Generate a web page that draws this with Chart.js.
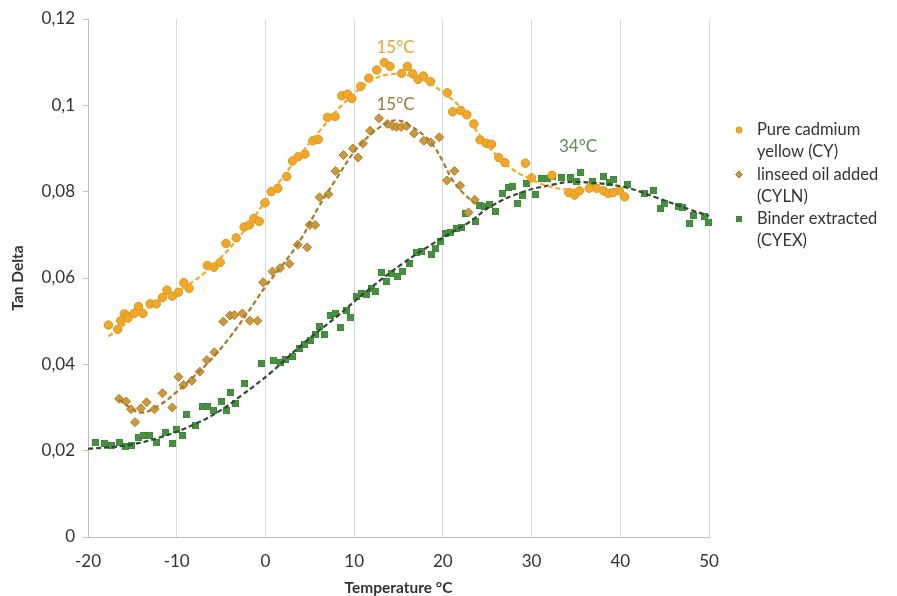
<!DOCTYPE html>
<html>
<head>
<meta charset="utf-8">
<script src="https://cdn.jsdelivr.net/npm/chart.js@4.4.1/dist/chart.umd.min.js"></script>
<style>
  html, body { margin: 0; padding: 0; background: #ffffff; }
  #wrap { width: 897px; height: 596px; position: relative; }
</style>
</head>
<body>
<div id="wrap"><canvas id="chart" width="897" height="596"></canvas></div>
<script>
// ---- Measured tan delta vs temperature ----
const cyTemp = [-17.7,-16.65,-16.3,-15.9,-15.6,-15.5,-14.8,-14.3,-13.8,-13.0,-12.3,-11.6,-11.1,-10.5,-9.8,-9.2,-8.6,-6.55,-5.8,-5.1,-4.45,-3.3,-2.4,-1.8,-1.3,-0.7,-0.05,0.65,1.4,2.4,3.05,3.7,4.45,5.35,5.95,7.0,7.85,8.6,9.25,9.75,10.75,11.65,12.55,13.4,14.05,15.35,16.0,16.6,17.2,17.8,18.6,20.5,21.1,22.0,22.7,23.5,24.2,24.9,25.5,26.3,27.0,29.3,30.0,32.3,34.2,34.85,35.4,36.5,37.3,38.1,38.65,39.2,39.9,40.5];
const cyTan = [0.0491,0.0481,0.0501,0.0517,0.0512,0.0507,0.0518,0.0534,0.0518,0.0540,0.0540,0.0555,0.0572,0.0558,0.0567,0.0589,0.0576,0.0629,0.0625,0.0636,0.0680,0.0693,0.0718,0.0723,0.0738,0.0731,0.0774,0.0800,0.0808,0.0835,0.0871,0.0881,0.0887,0.0918,0.0921,0.0972,0.0974,0.1022,0.1026,0.1016,0.1044,0.1063,0.1082,0.1099,0.1090,0.1074,0.1090,0.1073,0.1060,0.1068,0.1055,0.1029,0.0985,0.0988,0.0978,0.0957,0.0920,0.0912,0.0910,0.0879,0.0867,0.0866,0.0832,0.0838,0.0798,0.0792,0.0802,0.0808,0.0808,0.0802,0.0796,0.0798,0.0802,0.0788];

const cylnTemp = [-16.5,-15.7,-15.15,-14.7,-14.05,-13.4,-12.5,-11.6,-10.5,-9.8,-9.25,-8.3,-7.4,-6.6,-5.75,-4.75,-4.0,-3.5,-2.6,-1.75,-0.9,-0.25,0.8,1.65,2.7,3.65,4.7,5.0,5.6,6.1,7.1,7.9,8.8,9.85,10.45,11.0,11.8,12.8,13.75,14.35,14.8,15.3,15.9,16.75,17.85,18.65,19.6,20.45,21.3,21.95,22.9,23.6];
const cylnTan = [0.0320,0.0314,0.0296,0.0266,0.0298,0.0312,0.0296,0.0333,0.0300,0.0371,0.0352,0.0362,0.0383,0.0410,0.0428,0.0499,0.0513,0.0514,0.0518,0.0501,0.0501,0.0590,0.0615,0.0623,0.0633,0.0677,0.0671,0.0723,0.0723,0.0787,0.0794,0.0848,0.0885,0.0900,0.0879,0.0911,0.0941,0.0970,0.0957,0.0952,0.0950,0.0950,0.0952,0.0935,0.0918,0.0914,0.0926,0.0826,0.0848,0.0814,0.0752,0.0781];

const cyexTemp = [-19.1,-18.1,-17.3,-16.4,-15.8,-15.1,-14.3,-13.8,-13.1,-12.3,-11.3,-10.5,-10.0,-9.4,-8.9,-7.9,-7.1,-6.5,-5.9,-5.0,-4.4,-3.9,-3.4,-2.4,-0.4,0.9,1.65,2.3,3.05,3.8,4.45,5.1,5.6,6.1,6.7,7.35,7.85,8.5,9.1,9.6,10.3,10.85,11.4,12.0,12.45,13.1,13.7,14.2,14.9,15.5,16.2,17.05,17.6,18.7,19.2,19.75,20.35,20.9,21.5,22.1,22.6,23.7,24.15,24.7,25.3,25.95,26.7,27.35,27.9,28.4,29.0,29.45,30.45,31.15,31.8,32.4,33.4,34.4,35.05,35.55,36.85,38.1,38.8,39.2,40.8,42.7,43.8,44.5,45.0,46.6,47.0,47.8,48.3,49.5,49.95];
const cyexTan = [0.0218,0.0217,0.0211,0.0218,0.0209,0.0212,0.0231,0.0236,0.0235,0.0218,0.0242,0.0217,0.0248,0.0234,0.0283,0.0259,0.0302,0.0302,0.0294,0.0313,0.0292,0.0334,0.0310,0.0355,0.0402,0.0410,0.0404,0.0412,0.0419,0.0437,0.0447,0.0456,0.0468,0.0487,0.0470,0.0513,0.0518,0.0486,0.0524,0.0508,0.0558,0.0563,0.0561,0.0576,0.0568,0.0612,0.0592,0.0611,0.0603,0.0615,0.0634,0.0660,0.0661,0.0655,0.0669,0.0684,0.0702,0.0705,0.0714,0.0718,0.0749,0.0732,0.0769,0.0766,0.0770,0.0755,0.0796,0.0810,0.0813,0.0773,0.0791,0.0818,0.0794,0.0830,0.0830,0.0836,0.0832,0.0832,0.0823,0.0844,0.0823,0.0835,0.0821,0.0829,0.0817,0.0796,0.0802,0.0762,0.0772,0.0765,0.0763,0.0727,0.0744,0.0742,0.0728];

// ---- Fitted trend curves (read along each dashed fit) ----
const cyTrendTemp = [-17.7,-15,-12,-9,-6,-3,0,3,6,9,12,14,16,18,20,22,24,26,28,30,32,34,36,38,40.5];
const cyTrendTan  = [0.0465,0.0505,0.0548,0.0580,0.0628,0.0694,0.0778,0.0862,0.0938,0.1008,0.1058,0.1072,0.1070,0.1057,0.1030,0.0995,0.0935,0.0885,0.0850,0.0828,0.0812,0.0805,0.0804,0.0802,0.0795];

const cylnTrendTemp = [-16.5,-15.5,-14,-12,-10,-8,-6,-4,-2,0,2,4,6,8,10,12,14,15,16,18,19,20,21,22,23.6];
const cylnTrendTan  = [0.0318,0.0303,0.0288,0.0305,0.0336,0.0373,0.0414,0.0463,0.0520,0.0580,0.0632,0.0690,0.0765,0.0830,0.0892,0.0935,0.0962,0.0965,0.0957,0.0928,0.0905,0.0870,0.0830,0.0803,0.0772];

const cyexTrendTemp = [-20,-15.5,-11.7,-7.9,-5,-2.7,0.5,4.3,8,11.8,15.5,19.3,23.1,25.3,29.1,32.8,34,36.6,40.4,44.1,47.9,50];
const cyexTrendTan  = [0.0204,0.0213,0.0232,0.0262,0.0294,0.0328,0.0379,0.0449,0.0510,0.0576,0.0634,0.0685,0.0731,0.0765,0.0800,0.0818,0.0822,0.0821,0.0811,0.0786,0.0758,0.0744];

// ---- Axis ticks ----
const xTickValues = [-20,-10,0,10,20,30,40,50];
const xTickLabels = ['-20','-10','0','10','20','30','40','50'];
const yTickValues = [0,0.02,0.04,0.06,0.08,0.1,0.12];
const yTickLabels = ['0','0,02','0,04','0,06','0,08','0,1','0,12'];

// ---- Legend entries and peak annotations ----
const seriesNames = [['Pure cadmium','yellow (CY)'],['linseed oil added','(CYLN)'],['Binder extracted','(CYEX)']];
const peakLabels = ['15°C','15°C','34°C'];
const peakTemps  = [15, 15, 34];

// ---------------------------------------------------------------
const FONT = 'Lato, "Open Sans", sans-serif';
const TEXT = '#333333';
const CY_FILL = '#F0A829', CY_EDGE = '#D99418';
const LN_FILL = '#CC9A3C', LN_EDGE = '#AD7E2E';
const EX_FILL = '#56A24C', EX_EDGE = '#2F6F2F';

const pts = (xs, ys) => xs.map((v, i) => ({ x: v, y: ys[i] }));

// small green square with a cross, used as the CYEX marker
function crossSquare(size) {
  const c = document.createElement('canvas');
  c.width = c.height = size;
  const g = c.getContext('2d');
  g.fillStyle = EX_FILL;
  g.fillRect(0, 0, size, size);
  g.strokeStyle = EX_EDGE;
  g.lineWidth = 1;
  g.beginPath();
  g.moveTo(1.5, 1.5); g.lineTo(size - 1.5, size - 1.5);
  g.moveTo(size - 1.5, 1.5); g.lineTo(1.5, size - 1.5);
  g.stroke();
  g.globalAlpha = 0.6;
  g.strokeRect(0.5, 0.5, size - 1, size - 1);
  return c;
}
const exMarker = crossSquare(7);
const exMarkerSmall = crossSquare(6);

// peak annotation anchors (data coords) and colours
const peakAnchors = [
  { dx: -3, y: 0.1135, color: '#E9A431' },
  { dx: -3, y: 0.1003, color: '#9A7A3E' },
  { dx: 11, y: 0.0904, color: '#6A8456' }
];

const overlay = {
  id: 'overlay',
  afterDraw(chart) {
    const { ctx, scales: { x, y }, chartArea } = chart;
    ctx.save();
    // peak labels
    ctx.font = '17px ' + FONT;
    ctx.textAlign = 'center';
    ctx.textBaseline = 'middle';
    peakLabels.forEach((t, i) => {
      ctx.fillStyle = peakAnchors[i].color;
      ctx.fillText(t, x.getPixelForValue(peakTemps[i]) + peakAnchors[i].dx, y.getPixelForValue(peakAnchors[i].y));
    });
    // legend
    const mx = chartArea.right + 30, tx = chartArea.right + 48;
    const top = 130, lineStep = 22, groupStep = 44.5;
    const markers = [
      { pointStyle: 'circle', radius: 3, fill: CY_FILL, edge: CY_EDGE },
      { pointStyle: 'rectRot', radius: 3.5, fill: LN_FILL, edge: LN_EDGE },
      { pointStyle: exMarkerSmall, radius: 3, fill: EX_FILL, edge: EX_EDGE }
    ];
    ctx.font = '16.5px ' + FONT;
    ctx.textAlign = 'left';
    seriesNames.forEach((lines, i) => {
      const gy = top + i * groupStep;
      const m = markers[i];
      ctx.fillStyle = m.fill;
      ctx.strokeStyle = m.edge;
      ctx.lineWidth = 1;
      Chart.helpers.drawPoint(ctx, { pointStyle: m.pointStyle, radius: m.radius, rotation: 0, borderWidth: 1 }, mx, gy);
      ctx.fillStyle = TEXT;
      lines.forEach((ln, j) => ctx.fillText(ln, tx, gy + j * lineStep));
    });
    ctx.restore();
  }
};

new Chart(document.getElementById('chart'), {
  type: 'scatter',
  data: {
    datasets: [
      { label: 'CY fit', data: pts(cyTrendTemp, cyTrendTan), showLine: true, tension: 0.4, pointRadius: 0,
        borderColor: '#F0A830', borderWidth: 2.2, borderDash: [5, 3], order: 0 },
      { label: 'CYLN fit', data: pts(cylnTrendTemp, cylnTrendTan), showLine: true, tension: 0.4, pointRadius: 0,
        borderColor: '#A67A2A', borderWidth: 2.2, borderDash: [5, 3], order: 0 },
      { label: 'CYEX fit', data: pts(cyexTrendTemp, cyexTrendTan), showLine: true, tension: 0.4, pointRadius: 0,
        borderColor: '#2F4A30', borderWidth: 2.2, borderDash: [5, 3], order: 0 },
      { label: 'Pure cadmium yellow (CY)', data: pts(cyTemp, cyTan), pointStyle: 'circle', pointRadius: 4.2,
        backgroundColor: CY_FILL, borderColor: CY_EDGE, borderWidth: 1, order: 1, clip: 8 },
      { label: 'linseed oil added (CYLN)', data: pts(cylnTemp, cylnTan), pointStyle: 'rectRot', pointRadius: 4.5,
        backgroundColor: LN_FILL, borderColor: LN_EDGE, borderWidth: 1, order: 1, clip: 8 },
      { label: 'Binder extracted (CYEX)', data: pts(cyexTemp, cyexTan), pointStyle: exMarker, pointRadius: 4,
        backgroundColor: EX_FILL, borderColor: EX_EDGE, borderWidth: 1, order: 1, clip: 8 }
    ]
  },
  options: {
    responsive: false,
    animation: false,
    devicePixelRatio: 1,
    layout: { padding: { left: 0, right: 188, top: 19, bottom: 0 } },
    plugins: { legend: { display: false }, tooltip: { enabled: false } },
    scales: {
      x: {
        type: 'linear', min: -20, max: 50,
        afterBuildTicks: (s) => { s.ticks = xTickValues.map(v => ({ value: v })); },
        afterFit: (s) => { s.height = 59; },
        ticks: {
          color: TEXT, font: { family: FONT, size: 17 }, padding: 14, maxRotation: 0,
          callback: (v) => xTickLabels[xTickValues.indexOf(v)]
        },
        grid: { color: '#D9D9D9', lineWidth: 1, drawTicks: false },
        border: { color: '#BFBFBF' },
        title: { display: true, text: 'Temperature °C', color: TEXT,
                 font: { family: FONT, size: 15.5, weight: 'bold', lineHeight: 1 }, padding: { top: 0, bottom: 0 } }
      },
      y: {
        type: 'linear', min: 0, max: 0.12,
        afterBuildTicks: (s) => { s.ticks = yTickValues.map(v => ({ value: v })); },
        afterFit: (s) => { s.width = 88; },
        ticks: {
          color: TEXT, font: { family: FONT, size: 17 }, padding: 8,
          callback: (v) => yTickLabels[yTickValues.indexOf(v)]
        },
        grid: { drawOnChartArea: false, drawTicks: true, tickLength: 5, tickColor: '#BFBFBF' },
        border: { color: '#BFBFBF' },
        title: { display: true, text: 'Tan Delta', color: TEXT,
                 font: { family: FONT, size: 15.5, weight: 'bold', lineHeight: 1 }, padding: { top: 10, bottom: 0 } }
      }
    }
  },
  plugins: [overlay]
});
</script>
</body>
</html>
